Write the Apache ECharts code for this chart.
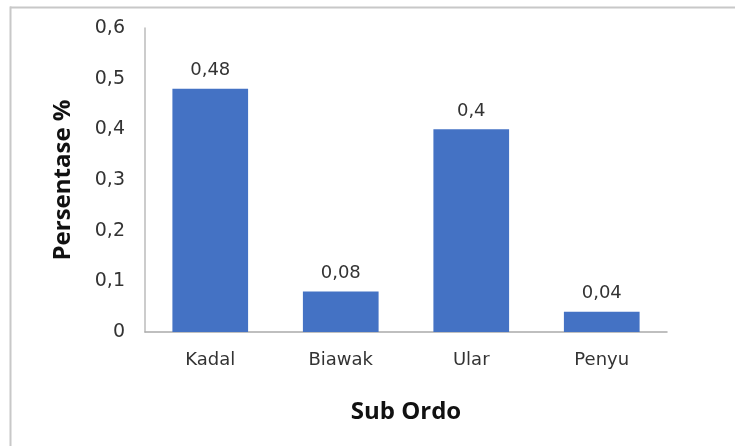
<!DOCTYPE html>
<html><head><meta charset="utf-8">
<script src="https://cdn.jsdelivr.net/npm/echarts@6/dist/echarts.min.js"></script>
<style>html,body{margin:0;padding:0;background:#fff;overflow:hidden}#c{width:735px;height:446px}</style>
</head><body><div id="c"></div>
<script>
var categories = ['Kadal', 'Biawak', 'Ular', 'Penyu'];
var values = [0.48, 0.08, 0.4, 0.04];
var yTicks = [0, 0.1, 0.2, 0.3, 0.4, 0.5, 0.6];

function fmt(v){ return String(v).replace('.', ','); }

var labelFont = 'DejaVu Sans, sans-serif';
var chart = echarts.init(document.getElementById('c'), null, {renderer:'canvas'});
chart.setOption({
  animation: false,
  backgroundColor: '#fff',
  textStyle: {fontFamily: 'Open Sans, Noto Sans, sans-serif'},
  graphic: [
    {type: 'rect', shape: {x: 10, y: 6.5, width: 760, height: 2},
     style: {fill: '#c8c8c8'}, silent: true},
    {type: 'rect', shape: {x: 9.5, y: 6.5, width: 2, height: 460},
     style: {fill: '#c8c8c8'}, silent: true}
  ],
  grid: {left: 145, right: 68, top: 28, bottom: 114},
  xAxis: {
    type: 'category', data: categories,
    name: 'Sub Ordo', nameLocation: 'middle', nameGap: 68,
    nameTextStyle: {fontSize: 24, fontWeight: 'bold', color: '#111'},
    axisLine: {lineStyle: {color: '#aaa', width: 1.5}},
    axisTick: {show: false},
    axisLabel: {fontSize: 18, fontFamily: labelFont, color: '#333', margin: 19}
  },
  yAxis: {
    type: 'value', min: yTicks[0], max: yTicks[yTicks.length-1], interval: 0.1,
    name: 'Persentase %', nameLocation: 'middle', nameGap: 70,
    nameTextStyle: {fontSize: 24, fontWeight: 'bold', color: '#111'},
    axisLine: {show: true, lineStyle: {color: '#bbb', width: 1.5}},
    axisTick: {show: false},
    splitLine: {show: false},
    axisLabel: {fontSize: 19, fontFamily: labelFont, color: '#333', margin: 20, formatter: function(v){ return fmt(Math.round(v*10)/10); }}
  },
  series: [{
    type: 'bar', data: values, barWidth: '58%',
    itemStyle: {color: '#4472C4'},
    label: {show: true, position: 'top', distance: 9, fontSize: 18, fontFamily: labelFont, color: '#333', formatter: function(p){ return fmt(p.value); }}
  }]
});
</script></body></html>
